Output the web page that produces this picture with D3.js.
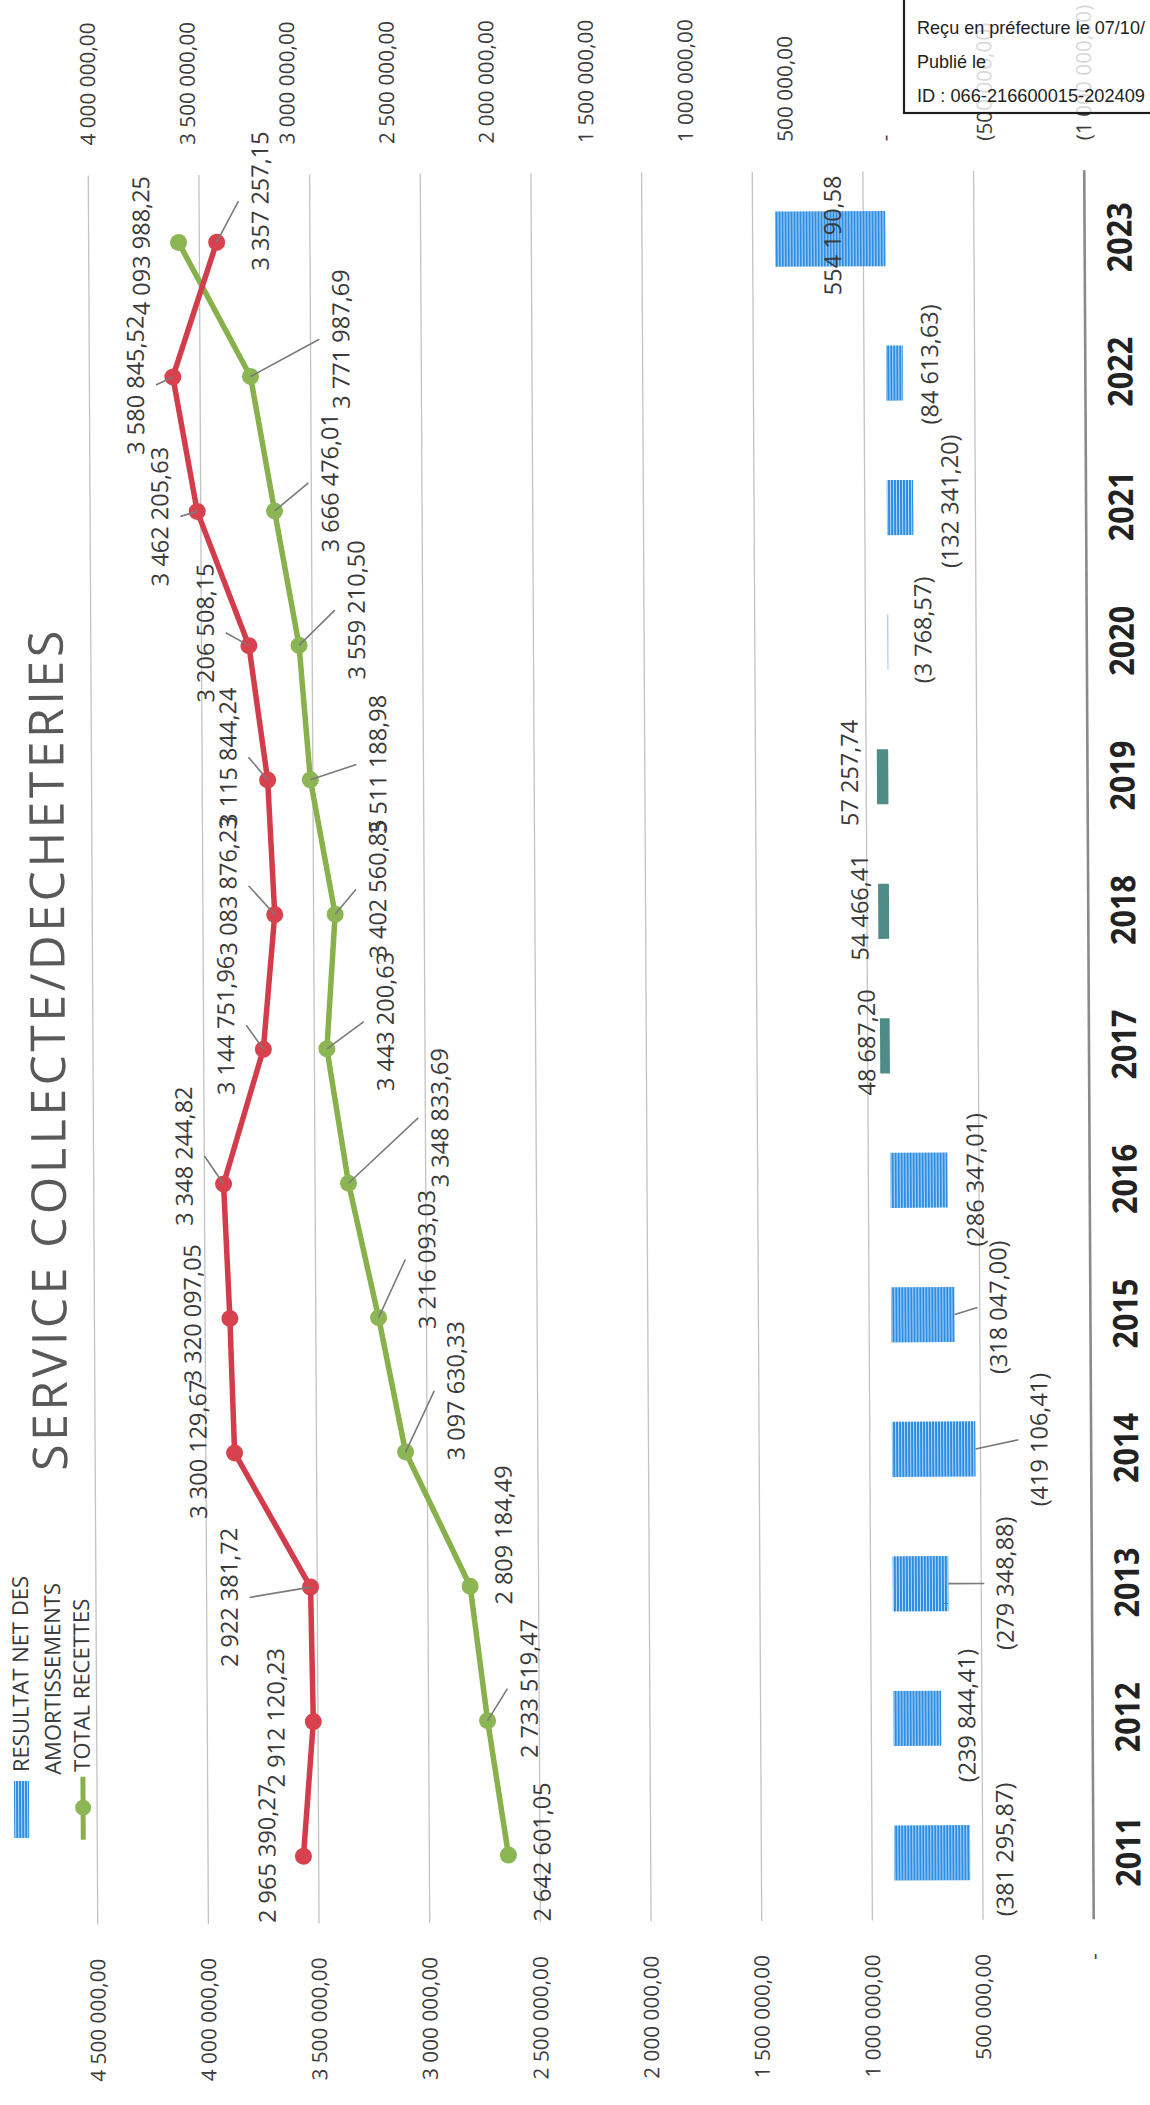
<!DOCTYPE html>
<html><head><meta charset="utf-8">
<script src="https://cdn.jsdelivr.net/npm/d3@7"></script>
<style>
body{margin:0;background:#fff}
svg{display:block}
text{font-family:'Open Sans',sans-serif}
</style>
</head><body>
<svg id="c" width="1150" height="2105"></svg>
<script>
// ---------- data ----------
const years = [2011,2012,2013,2014,2015,2016,2017,2018,2019,2020,2021,2022,2023];
const totalRecettes = [2642601.05,2733519.47,2809184.49,3097630.33,3216093.03,3348833.69,3443200.63,3402560.85,3511188.98,3559210.50,3666476.01,3771987.69,4093988.25];
const courbeRouge = [2965390.27,2912120.23,2922381.72,3300129.67,3320097.05,3348244.82,3144751.96,3083876.23,3115844.24,3206508.15,3462205.63,3580845.52,3357257.15];
const resultatNet = [-381295.87,-239844.41,-279348.88,-419106.41,-318047.00,-286347.01,48687.20,54466.41,57257.74,-3768.57,-132341.20,-84613.63,554190.58];
const leftTicks = [0,500000,1000000,1500000,2000000,2500000,3000000,3500000,4000000,4500000];
const rightTicks = [-1000000,-500000,0,500000,1000000,1500000,2000000,2500000,3000000,3500000,4000000];
const chartTitle = "SERVICE COLLECTE/DECHETERIES";
const legendLabels = ["RESULTAT NET DES","AMORTISSEMENTS","TOTAL RECETTES"];
const stampLines = ["Reçu en préfecture le 07/10/","Publié le","ID : 066-216600015-202409"];

// ---------- label layout (manual nudges, px: [dx, dy, leader]) ----------
const redLbl = [[-28,-3,0],[-29,-4,0],[-73,10,1],[-28,-4,0],[-29,-5,0],[-31,-28,1],[-29,-24,1],[-38,-29,1],[-31,-23,1],[-35,-13,1],[-29,5,1],[-29,8,1],[52,-41,1]];
const greenLbl = [[42,-3,0],[50,-32,1],[42,-51,0],[59,-61,1],[57,-58,1],[100,-65,1],[67,-27,1],[51,-25,1],[76,-15,1],[66,-35,1],[64,-28,1],[99,-37,1],[-29,3,0]];
const barLbl = [[43,-3,0],[34,-2.5,0],[65,0,1],[72,-9,1],[52,-7,1],[36,0,0],[-5,-3.5,0],[-10,-4,0],[-19,-4,0],[43,-12,0],[45,-6,0],[35,-8.5,0],[66,-3.5,0]];

// ---------- helpers ----------
const loc = d3.formatLocale({decimal:",", thousands:" ", grouping:[3], currency:["",""]});
const f2 = loc.format(",.2f");
const acc = v => v === 0 ? "-" : (v < 0 ? "(" + f2(-v) + ")" : f2(v));

const svg = d3.select("#c");
const defs = svg.append("defs");
const pat = defs.append("pattern").attr("id","hatch").attr("patternUnits","userSpaceOnUse")
  .attr("width",3).attr("height",6);
pat.append("rect").attr("width",3).attr("height",6).attr("fill","#2d8de2");
pat.append("rect").attr("x",2).attr("width",1).attr("height",6).attr("fill","#b4d9f7");

function vt(parent, x, y, s, anchor, size){
  return parent.append("text")
    .attr("transform",`translate(${x},${y}) rotate(-90)`)
    .attr("text-anchor",anchor).attr("font-size",size).text(s);
}

// slightly skewed scan
const g = svg.append("g").attr("transform","rotate(-0.31 575 1050)");

// ---------- scales ----------
const yBand = d3.scaleBand().domain(years).range([1922,173]);
const cy = d => yBand(d) + yBand.bandwidth()/2;
const xL = d3.scaleLinear().domain([0,4500000]).range([1089,93]);
const xR = d3.scaleLinear().domain([-1000000,4000000]).range([1089,93]);

// ---------- gridlines ----------
g.append("g").selectAll("line").data(leftTicks).join("line")
  .attr("x1",d=>xL(d)).attr("x2",d=>xL(d)).attr("y1",173).attr("y2",1922)
  .attr("stroke",d=>d===0?"#8a8a8a":"#c3c3c3").attr("stroke-width",d=>d===0?2.6:1.3);

// ---------- axis labels ----------
rightTicks.forEach(t=>{
  vt(g, xR(t), 143, acc(t), "start", 20.8).attr("dy","0.35em").attr("fill","#3c3c3c");
});
leftTicks.forEach(t=>{
  vt(g, xL(t), 1956, acc(t), "end", 20.8).attr("dy","0.35em").attr("fill","#3c3c3c");
});
years.forEach(y=>{
  vt(g, 1136, cy(y), String(y), "middle", 34).attr("font-weight","bold")
    .attr("textLength",70).attr("lengthAdjust","spacingAndGlyphs").attr("fill","#222");
});

// ---------- bars ----------
const bw = yBand.bandwidth()*0.41;
const barData = years.map((y,i)=>({y, v:resultatNet[i], i}));
g.append("g").selectAll("rect").data(barData).join("rect")
  .attr("x",d=>Math.min(xR(0),xR(d.v)))
  .attr("width",d=>Math.max(0.8,Math.abs(xR(d.v)-xR(0))))
  .attr("y",d=>cy(d.y)-bw/2).attr("height",bw)
  .attr("fill",d=>(d.v>0 && Math.abs(xR(d.v)-xR(0))<15) ? "#4f8c86" : "url(#hatch)");

barData.forEach(d=>{
  const [dx,dy,ld] = barLbl[d.i];
  const bx = xR(d.v)+dx, by = cy(d.y)+dy;
  if(ld){
    g.append("line").attr("x1",xR(d.v)).attr("y1",cy(d.y)).attr("x2",bx-29).attr("y2",by)
      .attr("stroke","#7a7a7a").attr("stroke-width",1.6);
  }
  vt(g, bx, by, acc(d.v), "middle", 23.5).attr("fill","#3a3a3a");
});

// ---------- lines ----------
function series(vals, scale, color, mcolor){
  const pts = years.map((y,i)=>({x:scale(vals[i]), y:cy(y), v:vals[i], i}));
  g.append("path").datum(pts)
    .attr("d", d3.line().x(d=>d.x).y(d=>d.y))
    .attr("fill","none").attr("stroke",color).attr("stroke-width",5.5).attr("stroke-linejoin","round");
  g.append("g").selectAll("circle").data(pts).join("circle")
    .attr("cx",d=>d.x).attr("cy",d=>d.y).attr("r",8.5).attr("fill",mcolor);
  return pts;
}
const gp = series(totalRecettes, xL, "#88b04b", "#8cb654");
const rp = series(courbeRouge, xR, "#d23c4b", "#d8424f");

function labels(pts, lbl){
  pts.forEach(p=>{
    const [dx,dy,ld] = lbl[p.i];
    const bx = p.x+dx, by = p.y+dy;
    if(ld){
      const ex = dx>0 ? bx-30 : bx+12;
      g.append("line").attr("x1",p.x).attr("y1",p.y).attr("x2",ex).attr("y2",by)
        .attr("stroke","#7a7a7a").attr("stroke-width",1.6);
    }
    vt(g, bx, by, acc(p.v), "middle", 23.5).attr("fill","#3a3a3a");
  });
}
labels(gp, greenLbl);
labels(rp, redLbl);

// ---------- title ----------
vt(g, 65, 1468, chartTitle, "start", 48).attr("fill","#595959")
  .attr("textLength",840).attr("lengthAdjust","spacing");

// ---------- legend ----------
g.append("rect").attr("x",10).attr("y",1778).attr("width",15).attr("height",57).attr("fill","url(#hatch)");
vt(g, 25, 1769, legendLabels[0], "start", 22).attr("fill","#3a3a3a");
vt(g, 57, 1772, legendLabels[1], "start", 22).attr("fill","#3a3a3a");
g.append("line").attr("x1",79).attr("x2",79).attr("y1",1774).attr("y2",1837)
  .attr("stroke","#88b04b").attr("stroke-width",5);
g.append("circle").attr("cx",79).attr("cy",1805).attr("r",8).attr("fill","#8cb654");
vt(g, 86, 1769, legendLabels[2], "start", 22).attr("fill","#3a3a3a");

// ---------- stamp ----------
svg.append("rect").attr("x",904).attr("y",-10).attr("width",262).attr("height",123)
  .attr("fill","#fff").attr("fill-opacity",0.8).attr("stroke","#1e1e1e").attr("stroke-width",2.2);
const stampLen = [228, 69, 228];
stampLines.forEach((s,i)=>{
  svg.append("text").attr("x",917).attr("y",[34,68,102][i]).attr("font-size",18.5)
    .style("font-family","'Liberation Sans',Arial,sans-serif").attr("fill","#222")
    .attr("textLength",stampLen[i]).attr("lengthAdjust","spacingAndGlyphs").text(s);
});
</script>
</body></html>
